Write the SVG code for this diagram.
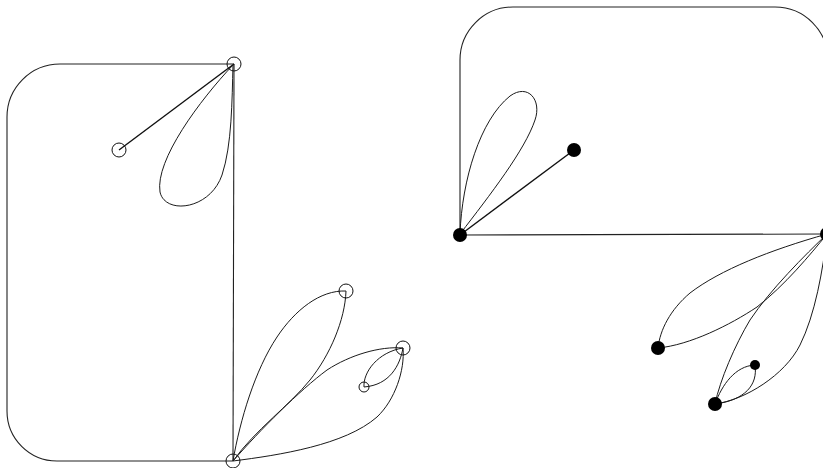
<svg xmlns="http://www.w3.org/2000/svg" width="823" height="468" viewBox="0 0 823 468">
<style>
.edge{fill:none;stroke:#1a1a1a;stroke-width:1}
.frame{fill:none;stroke:#222;stroke-width:1.1}
.thick{fill:none;stroke:#111;stroke-width:1.4}
.hollow{fill:none;stroke:#111;stroke-width:1}
.solid{fill:#000;stroke:none}
</style>
<rect width="823" height="468" fill="#fff"/>
<g id="connectors">
<!-- left figure -->
<path class="frame" d="M234,64 L60,64 A53,53 0 0 0 7,117 L7,411 A50,50 0 0 0 57,461 L233,461"/>
<path class="frame" d="M234,64 L233,461"/>
<path class="thick" d="M234,64 L119,150"/>
<path class="edge" d="M233,65 C200,100 155,160 160,192 C165,215 210,210 222,175 C232,145 232,100 233,65"/>
<path class="edge" d="M233,461 C240,420 255,370 277,337 C295,310 320,290 346,291"/>
<path class="edge" d="M346,291 C345,320 330,355 310,380 C290,405 255,430 233,461"/>
<path class="edge" d="M233,461 C260,430 300,390 327,370 C350,355 380,346 403,348"/>
<path class="edge" d="M403,348 C405,370 395,400 377,417 C345,445 280,455 233,461"/>
<path class="edge" d="M364,387 C363,372 378,352 403,348"/>
<path class="edge" d="M403,348 C400,365 390,385 364,387"/>
<!-- right figure -->
<path class="frame" d="M460,235 L460,60 A53,53 0 0 1 513,7 L775,7 A53,53 0 0 1 828,60 L828,234"/>
<path class="frame" d="M460,235 L827,234"/>
<path class="thick" d="M460,235 L574,150"/>
<path class="edge" d="M460,234 C462,180 480,120 510,96 C528,83 542,100 535,120 C525,150 490,195 460,234"/>
<path class="edge" d="M827,234 C770,250 720,270 690,293 C670,310 660,330 658,348"/>
<path class="edge" d="M658,348 C690,345 730,325 757,307 C785,285 810,255 827,234"/>
<path class="edge" d="M827,234 C805,255 770,290 750,320 C735,345 720,380 715,404"/>
<path class="edge" d="M715,404 C745,400 785,375 800,345 C815,315 823,270 827,234"/>
<path class="edge" d="M715,404 C722,385 735,366 755,365"/>
<path class="edge" d="M755,365 C758,385 745,400 715,404"/>
</g>
<g id="node-A"><circle class="hollow" cx="234" cy="64" r="7"/></g>
<g id="node-B"><circle class="hollow" cx="233" cy="461" r="7"/></g>
<g id="node-C"><circle class="hollow" cx="119" cy="150" r="7"/></g>
<g id="node-D"><circle class="hollow" cx="346" cy="291" r="7"/></g>
<g id="node-E"><circle class="hollow" cx="403" cy="348" r="7"/></g>
<g id="node-F"><circle class="hollow" cx="364" cy="387" r="5"/></g>
<g id="node-P"><circle class="solid" cx="460" cy="235" r="7"/></g>
<g id="node-Q"><circle class="solid" cx="827" cy="234" r="7"/></g>
<g id="node-R"><circle class="solid" cx="574" cy="150" r="7"/></g>
<g id="node-S"><circle class="solid" cx="658" cy="348" r="7"/></g>
<g id="node-T"><circle class="solid" cx="715" cy="404" r="7"/></g>
<g id="node-U"><circle class="solid" cx="755" cy="365" r="5"/></g>
</svg>
